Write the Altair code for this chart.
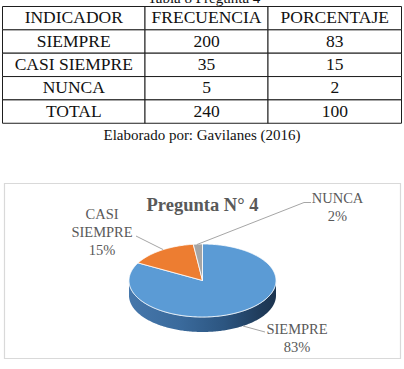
import altair as alt
import pandas as pd
import numpy as np

W, H = 404, 369

# ---------------- data ----------------
table_title = "Tabla 8 Pregunta 4"
headers = ["INDICADOR", "FRECUENCIA", "PORCENTAJE"]
indicadores = ["SIEMPRE", "CASI SIEMPRE", "NUNCA", "TOTAL"]
frecuencias = [200, 35, 5, 240]
porcentajes = [83, 15, 2, 100]
caption = "Elaborado por: Gavilanes (2016)"

chart_title = "Pregunta N° 4"
pie_categories = ["SIEMPRE", "CASI SIEMPRE", "NUNCA"]
pie_values = [83, 15, 2]
pie_colors = ["#5b9bd5", "#ed7d31", "#a5a5a5"]

# ---------------- layout ----------------
COL_EDGES = [2.5, 145, 268, 401.5]
ROW_TOP, ROW_H = 6.5, 23.35
SERIF = "Liberation Serif"
PIE_CX, PIE_CY, PIE_RX, PIE_RY, PIE_DEPTH = 202.5, 280.5, 73.5, 36.5, 15.0
LABEL_POS = {"SIEMPRE": (297, 330), "CASI SIEMPRE": (102, 215), "NUNCA": (337.5, 199)}
LABEL_LH = 17.8
LEADERS = {
    "CASI SIEMPRE": [(136, 236), (163, 249.5)],
    "NUNCA": [(197, 244.5), (304, 202.5), (311, 202.5)],
    "SIEMPRE": [(243, 326), (265, 332)],
}

px = alt.Scale(domain=[0, W], range=[0, W], nice=False, zero=False)
py = alt.Scale(domain=[0, H], range=[0, H], nice=False, zero=False)
ux = alt.Scale(domain=[-1, 1], range=[PIE_CX - PIE_RX, PIE_CX + PIE_RX], nice=False, zero=False)
uy = alt.Scale(domain=[-1, 1], range=[PIE_CY - PIE_RY, PIE_CY + PIE_RY], nice=False, zero=False)

# ---------------- table ----------------
cells = []
rows_text = [headers] + [[i, str(f), str(p)] for i, f, p in zip(indicadores, frecuencias, porcentajes)]
for r, row in enumerate(rows_text):
    for c, t in enumerate(row):
        cells.append({"r": r, "x0": COL_EDGES[c], "x1": COL_EDGES[c + 1],
                      "xc": (COL_EDGES[c] + COL_EDGES[c + 1]) / 2, "text": t})
cells_df = pd.DataFrame(cells)
row_scale = alt.Scale(domain=list(range(len(rows_text))),
                      range=[ROW_TOP, ROW_TOP + len(rows_text) * ROW_H],
                      paddingInner=0, paddingOuter=0)

table_rects = alt.Chart(cells_df).mark_rect(fill="white", stroke="#1e1e1e", strokeWidth=1).encode(
    x=alt.X("x0:Q", scale=px, axis=None), x2="x1:Q",
    y=alt.Y("r:O", scale=row_scale, axis=None),
)
table_text = alt.Chart(cells_df).mark_text(font=SERIF, fontSize=17.5, color="#111111",
                                           baseline="middle", align="center").encode(
    x=alt.X("xc:Q", scale=px, axis=None),
    y=alt.Y("r:O", scale=row_scale, axis=None),
    text="text:N",
)

annot_df = pd.DataFrame([
    {"x": 204, "y": 3, "text": table_title, "kind": "ttitle"},
])
ttitle = alt.Chart(pd.DataFrame({"text": [table_title]})).mark_text(
    font=SERIF, fontSize=15, color="#111111", baseline="alphabetic", align="center"
).encode(x=alt.value(204), y=alt.value(3), text="text:N")
caption_mark = alt.Chart(pd.DataFrame({"text": [caption]})).mark_text(
    font=SERIF, fontSize=15, color="#111111", baseline="middle", align="center"
).encode(x=alt.value(202), y=alt.value(135), text="text:N")

# ---------------- pie ----------------
border = alt.Chart(pd.DataFrame({"a": [0]})).mark_rect(
    fill="white", stroke="#d9d9d9", strokeWidth=1.2
).encode(x=alt.value(4.5), x2=alt.value(400.5), y=alt.value(183.5), y2=alt.value(358.5))

ptitle = alt.Chart(pd.DataFrame({"text": [chart_title]})).mark_text(
    font=SERIF, fontSize=18.5, fontWeight="bold", color="#595959", baseline="middle", align="center"
).encode(x=alt.value(202.5), y=alt.value(205), text="text:N")

total = sum(pie_values)
cum = np.concatenate([[0], np.cumsum(pie_values)]) / total * 360.0
slice_pts = []
for i, cat in enumerate(pie_categories):
    a0, a1 = cum[i], cum[i + 1]
    n = int(np.ceil(a1 - a0)) + 1
    angs = np.linspace(a0, a1, max(n, 2))
    k = 0
    slice_pts.append({"cat": cat, "k": k, "u": 0.0, "v": 0.0}); k += 1
    for a in angs:
        t = np.radians(a)
        slice_pts.append({"cat": cat, "k": k, "u": float(np.sin(t)), "v": float(-np.cos(t))}); k += 1
    slice_pts.append({"cat": cat, "k": k, "u": 0.0, "v": 0.0})
slices_df = pd.DataFrame(slice_pts)

slices = alt.Chart(slices_df).mark_line(stroke="white", strokeWidth=0.8, strokeJoin="round").encode(
    x=alt.X("u:Q", scale=ux, axis=None),
    y=alt.Y("v:Q", scale=uy, axis=None),
    fill=alt.Fill("cat:N", scale=alt.Scale(domain=pie_categories, range=pie_colors), legend=None),
    detail="cat:N",
    order="k:Q",
)

# side (front) of the 3D pie
d_unit = PIE_DEPTH / PIE_RY
side_angles = np.linspace(90, 270, 181)
side_df = pd.DataFrame({
    "u": np.sin(np.radians(side_angles)),
    "v": -np.cos(np.radians(side_angles)),
})
side_df["v2"] = side_df["v"] + d_unit
side = alt.Chart(side_df).mark_area(
    color=alt.Gradient(gradient="linear", x1=0, x2=1, y1=0, y2=0, stops=[
        alt.GradientStop(color="#4677ab", offset=0),
        alt.GradientStop(color="#3a6a9c", offset=0.35),
        alt.GradientStop(color="#2c5580", offset=0.65),
        alt.GradientStop(color="#1f3b5a", offset=0.9),
        alt.GradientStop(color="#1c344f", offset=1),
    ])
).encode(
    x=alt.X("u:Q", scale=ux, axis=None),
    y=alt.Y("v:Q", scale=uy, axis=None),
    y2="v2:Q",
)
edge = alt.Chart(side_df).mark_line(stroke="#cfe0f0", strokeWidth=0.8, opacity=0.8).encode(
    x=alt.X("u:Q", scale=ux, axis=None),
    y=alt.Y("v:Q", scale=uy, axis=None),
    order=alt.Order("u:Q"),
)

# leader lines
lead_rows = []
for cat, pts in LEADERS.items():
    for k, (x, y) in enumerate(pts):
        lead_rows.append({"cat": cat, "k": k, "x": x, "y": y})
leaders = alt.Chart(pd.DataFrame(lead_rows)).mark_line(stroke="#a6a6a6", strokeWidth=1).encode(
    x=alt.X("x:Q", scale=px, axis=None),
    y=alt.Y("y:Q", scale=py, axis=None),
    detail="cat:N",
    order="k:Q",
)

# data labels
lab_rows = []
for cat, val in zip(pie_categories, pie_values):
    lines = cat.split(" ") + [f"{val}%"]
    x0, y0 = LABEL_POS[cat]
    for j, t in enumerate(lines):
        lab_rows.append({"x": x0, "y": y0 + j * LABEL_LH, "text": t})
labels = alt.Chart(pd.DataFrame(lab_rows)).mark_text(
    font=SERIF, fontSize=14.5, color="#595959", baseline="middle", align="center"
).encode(
    x=alt.X("x:Q", scale=px, axis=None),
    y=alt.Y("y:Q", scale=py, axis=None),
    text="text:N",
)

chart = alt.layer(
    border, ptitle, side, edge, slices, leaders, labels,
    table_rects, table_text, ttitle, caption_mark,
).resolve_scale(x="independent", y="independent").properties(
    width=W, height=H, padding=0, autosize=alt.AutoSizeParams(type="none"), background="white"
).configure_view(stroke=None)

chart.save("out.html", embed_options={"renderer": "svg", "actions": False})
